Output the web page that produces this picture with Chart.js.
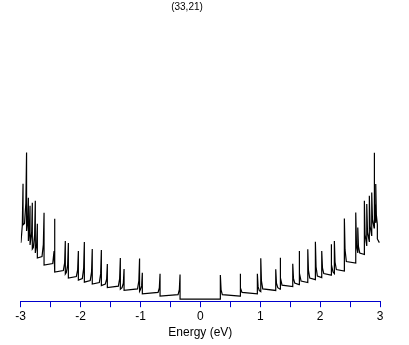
<!DOCTYPE html>
<html>
<head>
<meta charset="utf-8">
<script src="https://cdn.jsdelivr.net/npm/chart.js@4/dist/chart.umd.min.js"></script>
<style>
  html, body { margin: 0; padding: 0; background: #fff; }
  canvas { display: block; }
</style>
</head>
<body>
<canvas id="graph" width="409" height="345"></canvas>
<script>
// chirality shown on top
var tubeLabel = '(33,21)';
var xTitle = 'Energy (eV)';

// valence side (E < 0)
var valenceEnergy = [
    -3.000, -2.994, -2.973, -2.961, -2.961,
    -2.936, -2.914, -2.902, -2.902,
    -2.884, -2.872, -2.872,
    -2.856, -2.844, -2.844,
    -2.817, -2.806, -2.806,
    -2.789, -2.767, -2.756, -2.756,
    -2.734, -2.722, -2.722,
    -2.644, -2.622, -2.610, -2.610,
    -2.465, -2.443, -2.432, -2.432,
    -2.288, -2.266, -2.255, -2.255,
    -2.238, -2.216, -2.204, -2.204,
    -2.071, -2.049, -2.037, -2.037,
    -1.971, -1.949, -1.937, -1.937,
    -1.839, -1.817, -1.805, -1.805,
    -1.687, -1.665, -1.653, -1.653,
    -1.587, -1.565, -1.553, -1.553,
    -1.369, -1.348, -1.336, -1.336,
    -1.308, -1.286, -1.274, -1.274,
    -1.049, -1.027, -1.015, -1.015,
    -1.002, -0.980, -0.969, -0.969,
    -0.706, -0.685, -0.673, -0.673,
    -0.372, -0.351, -0.339, -0.339
];
var valenceDos = [
    1.12, 1.15, 1.474, 2.30, 1.48,
    1.51, 1.912, 2.92, 1.36,
    1.558, 2.02, 1.16,
    1.37, 1.86, 1.08,
    1.332, 1.92, 1.00,
    1.03, 1.288, 1.96, 0.92,
    1.094, 1.50, 0.82,
    0.85, 1.09, 1.72, 0.68,
    0.71, 0.956, 1.60, 0.54,
    0.57, 0.726, 1.16, 0.50,
    0.53, 0.686, 1.12, 0.42,
    0.45, 0.582, 0.96, 0.38,
    0.41, 0.608, 1.14, 0.34,
    0.37, 0.538, 1.00, 0.30,
    0.33, 0.504, 0.98, 0.27,
    0.30, 0.399, 0.70, 0.23,
    0.26, 0.407, 0.82, 0.20,
    0.23, 0.32, 0.60, 0.174,
    0.204, 0.365, 0.81, 0.16,
    0.19, 0.27, 0.526, 0.106,
    0.136, 0.226, 0.506, 0.06,
    0.09, 0.189, 0.49, 0
];

// conduction side (E > 0)
var conductionEnergy = [
    0.334, 0.334, 0.346, 0.367,
    0.663, 0.663, 0.675, 0.696,
    0.952, 0.952, 0.964, 0.985,
    1.009, 1.009, 1.020, 1.042,
    1.259, 1.259, 1.271, 1.293,
    1.331, 1.331, 1.343, 1.364,
    1.543, 1.543, 1.555, 1.576,
    1.648, 1.648, 1.660, 1.682,
    1.794, 1.794, 1.805, 1.827,
    1.921, 1.921, 1.932, 1.954,
    2.027, 2.027, 2.039, 2.061,
    2.183, 2.183, 2.194, 2.216,
    2.238, 2.238, 2.249, 2.271,
    2.405, 2.405, 2.416, 2.438,
    2.595, 2.595, 2.607,
    2.629, 2.629, 2.640, 2.662,
    2.739, 2.739, 2.750,
    2.779, 2.779, 2.791,
    2.822, 2.822, 2.834,
    2.862, 2.862, 2.874,
    2.901, 2.901, 2.912,
    2.929, 2.929, 2.939, 2.956, 2.956, 2.989
];
var conductionDos = [
    0, 0.48, 0.186, 0.09,
    0.06, 0.506, 0.226, 0.136,
    0.106, 0.506, 0.25, 0.17,
    0.15, 0.814, 0.366, 0.204,
    0.174, 0.594, 0.318, 0.23,
    0.20, 0.826, 0.422, 0.28,
    0.25, 0.706, 0.414, 0.32,
    0.29, 0.96, 0.519, 0.36,
    0.33, 0.994, 0.572, 0.42,
    0.39, 1.146, 0.644, 0.46,
    0.43, 0.96, 0.624, 0.51,
    0.48, 1.094, 0.686, 0.54,
    0.51, 1.16, 0.74, 0.59,
    0.56, 1.606, 0.986, 0.75,
    0.72, 1.726, 1.078,
    0.92, 1.426, 1.05, 0.92,
    0.89, 1.96, 1.288,
    1.06, 1.894, 1.338,
    1.14, 2.06, 1.458,
    1.26, 2.126, 1.59,
    1.42, 2.914, 1.91,
    1.52, 2.294, 1.68, 1.48, 1.20, 1.126
];

var energy = valenceEnergy.concat(conductionEnergy);
var dos = valenceDos.concat(conductionDos);

var points = [];
energy.forEach(function (e, i) {
    points.push({ x: e, y: dos[i] });
});

var axisBlue = '#0000cc';
var font = 'Liberation Sans, Arial, sans-serif';

// little title drawn where the original had it
var topLabel = {
    id: 'topLabel',
    afterDraw: function (chart) {
        var c = chart.ctx;
        c.save();
        c.fillStyle = '#000';
        c.font = '10px ' + font;
        c.textAlign = 'center';
        c.textBaseline = 'middle';
        c.fillText(tubeLabel, 187, 7);
        c.restore();
    }
};

var ctx = document.getElementById('graph').getContext('2d');
var chart = new Chart(ctx, {
    type: 'scatter',
    data: {
        datasets: [{
            data: points,
            showLine: true,
            borderColor: '#000',
            borderWidth: 1.2,
            pointRadius: 0,
            tension: 0,
            fill: false
        }]
    },
    options: {
        responsive: false,
        animation: false,
        layout: { padding: { top: 20, left: 20.7, right: 29, bottom: 5 } },
        plugins: {
            legend: { display: false },
            tooltip: { enabled: false },
            title: { display: false }
        },
        scales: {
            x: {
                type: 'linear',
                min: -3,
                max: 3,
                grid: {
                    drawOnChartArea: false,
                    drawTicks: true,
                    tickLength: 6,
                    color: axisBlue
                },
                border: { display: true, color: axisBlue, width: 1 },
                ticks: {
                    stepSize: 0.5,
                    autoSkip: false,
                    maxRotation: 0,
                    padding: 2,
                    color: '#000',
                    font: { family: font, size: 12 },
                    callback: function (v) {
                        return Number.isInteger(v) ? String(v) : '';
                    }
                },
                title: {
                    display: true,
                    text: xTitle,
                    color: '#000',
                    font: { family: font, size: 12 },
                    padding: { top: 0, bottom: 0 }
                }
            },
            y: {
                display: false,
                min: -0.04,
                max: 5.56
            }
        }
    },
    plugins: [topLabel]
});
</script>
</body>
</html>
